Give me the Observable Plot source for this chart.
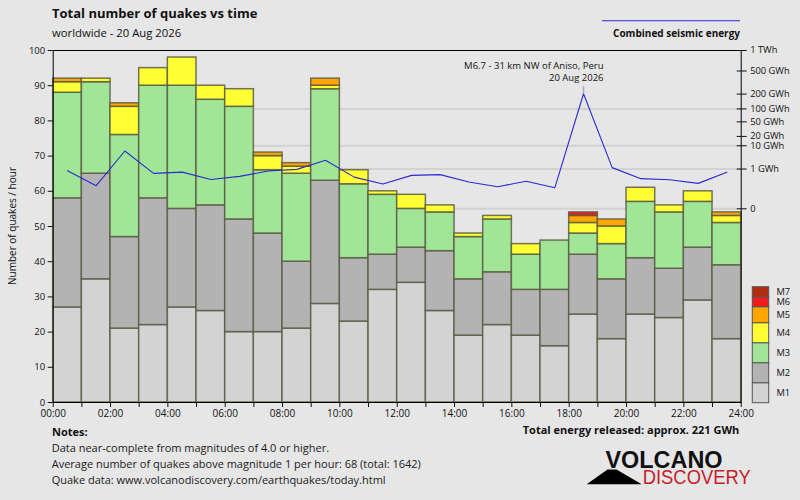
<!DOCTYPE html>
<html><head><meta charset="utf-8">
<script src="https://cdn.jsdelivr.net/npm/d3@7"></script>
<script src="https://cdn.jsdelivr.net/npm/@observablehq/plot@0.6"></script>
<style>
body{margin:0;background:#e6e6e6;}
#wrap{position:relative;width:800px;height:500px;background:#e6e6e6;overflow:hidden;font-family:"Open Sans",sans-serif;}
#wrap svg{position:absolute;left:0;top:0;}
</style></head><body><div id="wrap"></div>
<script>
// ---- data ----
const hours = d3.range(24);
const m1 = [27,35,21,22,27,26,20,20,21,28,23,32,34,26,19,22,19,16,25,18,25,24,29,18];
const m2 = [31,30,26,36,28,30,32,28,19,35,18,10,10,17,16,15,13,16,17,17,16,14,15,21];
const m3 = [30,26,29,32,35,30,32,18,25,26,21,17,11,11,12,15,10,14,6,10,16,16,13,12];
const m4 = [3,1,8,5,8,4,5,4,2,1,4,1,4,2,1,1,3,0,3,5,4,2,3,2];
const m5 = [1,0,1,0,0,0,0,1,1,2,0,0,0,0,0,0,0,0,2,2,0,0,0,1];
const m6 = [0,0,0,0,0,0,0,0,0,0,0,0,0,0,0,0,0,0,1,0,0,0,0,0];
const m7 = [0,0,0,0,0,0,0,0,0,0,0,0,0,0,0,0,0,0,0,0,0,0,0,0];
const magLabels = ["M1","M2","M3","M4","M5","M6","M7"];
const magColors = ["#d3d3d3","#b3b3b3","#a0e696","#ffff33","#ffa500","#ee1c1c","#b22d10"];
const energyGWh = [0.81,0.066,6.5,0.56,0.67,0.22,0.36,0.77,0.96,2.7,0.32,0.093,0.42,0.47,0.14,0.053,0.16,0.042,203,1.19,0.25,0.21,0.107,0.65];
const energyTicks = [0,1,10,20,50,100,200,500,1000];
const energyTickLabels = ["0","1 GWh","10 GWh","20 GWh","50 GWh","100 GWh","200 GWh","500 GWh","1 TWh"];
const gridTicks = [0,1,10,100];
const countTicks = d3.range(0,101,10);
const hourTicks = d3.range(0,25);
const hourLabelTicks = d3.range(0,25,2);
const hourLabels = ["00:00","02:00","04:00","06:00","08:00","10:00","12:00","14:00","16:00","18:00","20:00","22:00","24:00"];
const peakHour = 18;
const peakText = "M6.7 - 31 km NW of Aniso, Peru\n20 Aug 2026";
const notes = ["Data near-complete from magnitudes of 4.0 or higher.",
  "Average number of quakes above magnitude 1 per hour: 68 (total: 1642)",
  "Quake data: www.volcanodiscovery.com/earthquakes/today.html"];

// ---- tables ----
const series = [m1,m2,m3,m4,m5,m6,m7];
const rows = [];
hours.forEach(h => {
  let c = 0;
  series.forEach((s, k) => {
    const v = s[h];
    if (v > 0) rows.push({h, h2: h + 1, y1: c, y2: c + v, mag: magLabels[k]});
    c += v;
  });
});
const energyRows = hours.map(h => ({x: h + 0.5, e: energyGWh[h]}));
const peakRow = energyRows[peakHour];

const wrap = document.getElementById("wrap");
const common = {
  width: 800, height: 500,
  marginLeft: 52.7, marginRight: 59.3, marginTop: 50, marginBottom: 98,
  style: {background: "transparent", fontFamily: "'Open Sans', sans-serif", fontSize: "10px", color: "#111"}
};
const eY = {type: "pow", exponent: 0.2, domain: [0, 1000], range: [208.3, 50], axis: null};

// layer 1: energy gridlines
wrap.appendChild(Plot.plot({...common,
  x: {domain: [0, 24], axis: null}, y: eY,
  marks: [Plot.ruleY(gridTicks, {stroke: "#d2d2d2", strokeWidth: 2})]
}));

// layer 2: stacked bars + count axes
wrap.appendChild(Plot.plot({...common,
  x: {domain: [0, 24], axis: null},
  y: {domain: [0, 100], axis: null},
  color: {domain: magLabels, range: magColors},
  marks: [
    Plot.rect(rows, {x1: "h", x2: "h2", y1: "y1", y2: "y2", fill: "mag", stroke: "#5c5c44", strokeWidth: 1.5, strokeOpacity: 0.85}),
    Plot.frame({stroke: "#000"}),
    Plot.axisY({ticks: countTicks, tickSize: 5, tickPadding: 3, fontSize: 9.5, label: null}),
    Plot.axisX({ticks: hourTicks, tickSize: 5, tickFormat: () => "", label: null}),
    Plot.axisX({ticks: hourLabelTicks, tickSize: 0, tickPadding: 7, tickFormat: d => hourLabels[hourLabelTicks.indexOf(d)], label: null})
  ]
}));

// layer 3: energy line + right axis + annotation
const leader = {draw(ctx) { ctx.moveTo(0, -1); ctx.lineTo(0, -7.5); }};
wrap.appendChild(Plot.plot({...common,
  x: {domain: [0, 24], axis: null}, y: eY,
  marks: [
    Plot.axisY({anchor: "right", ticks: energyTicks, tickSize: 5, tickPadding: 4, fontSize: 9.3, tickFormat: d => energyTickLabels[energyTicks.indexOf(d)], label: null}),
    Plot.axisY({anchor: "right", ticks: energyTicks, tickSize: -5, tickFormat: () => "", label: null}),
    Plot.dot([peakRow], {x: "x", y: "e", symbol: leader, stroke: "#aaaaaa", fill: "none", strokeWidth: 1.5}),
    Plot.line(energyRows, {x: "x", y: "e", stroke: "#2a2ad2", strokeWidth: 1.1}),
    Plot.text([peakRow], {x: "x", y: "e", text: () => peakText, textAnchor: "end", lineAnchor: "bottom", dx: 20, dy: -13, fontSize: 9.5, lineHeight: 1.23, fill: "#111"})
  ]
}));

// layer 4: titles, notes, legend, logo
const deco = d3.select(wrap).append("svg").attr("width", 800).attr("height", 500)
  .style("font-family", "'Open Sans', sans-serif").style("pointer-events", "none");
function txt(x, y, s, size, opts = {}) {
  const t = deco.append("text").attr("x", x).attr("y", y).text(s)
    .attr("font-size", size).attr("fill", opts.fill || "#111")
    .attr("font-weight", opts.bold ? "bold" : null)
    .attr("text-anchor", opts.anchor || "start");
  if (opts.family) t.attr("font-family", opts.family);
  if (opts.len) t.attr("textLength", opts.len).attr("lengthAdjust", "spacingAndGlyphs");
  if (opts.transform) t.attr("transform", opts.transform);
  if (opts.baseline) t.attr("dominant-baseline", opts.baseline);
  return t;
}
txt(52, 18.3, "Total number of quakes vs time", 13, {bold: true});
txt(52, 37, "worldwide - 20 Aug 2026", 11.3);
deco.append("line").attr("x1", 602).attr("x2", 740).attr("y1", 20.7).attr("y2", 20.7).attr("stroke", "#2a2ad2").attr("stroke-width", 1.1);
txt(740, 37.3, "Combined seismic energy", 10, {bold: true, anchor: "end"});
txt(0, 0, "Number of quakes / hour", 10, {anchor: "middle", transform: "translate(15.5,226) rotate(-90)"});
txt(52, 435.7, "Notes:", 11, {bold: true});
notes.forEach((n, i) => txt(51.7, 451.7 + 16 * i, n, 11, {fill: "#1a1a1a"}));
txt(739.3, 434.3, "Total energy released: approx. 221 GWh", 11, {bold: true, anchor: "end"});

// magnitude legend
const boxH = [20, 20, 20, 20, 16, 10, 10];
let yb = 402.7;
magLabels.forEach((m, i) => {
  const y0 = yb - boxH[i];
  deco.append("rect").attr("x", 752.3).attr("y", y0).attr("width", 16.4).attr("height", boxH[i])
    .attr("fill", magColors[i]).attr("stroke", "#555").attr("stroke-width", 1);
  txt(776.5, y0 + boxH[i] / 2, m, 9.3, {baseline: "central"});
  yb = y0;
});

// logo
deco.append("polygon").attr("points", "586.7,484.3 641.7,484.3 616.5,469.5 607.5,469.5").attr("fill", "#000");
txt(605.5, 467.7, "VOLCANO", 24, {bold: true, family: "'Liberation Sans', Arial, sans-serif", len: 117, fill: "#111"});
txt(642.7, 484.3, "DISCOVERY", 20, {family: "'Liberation Sans', Arial, sans-serif", len: 108, fill: "#c41f2c"});
</script></body></html>
